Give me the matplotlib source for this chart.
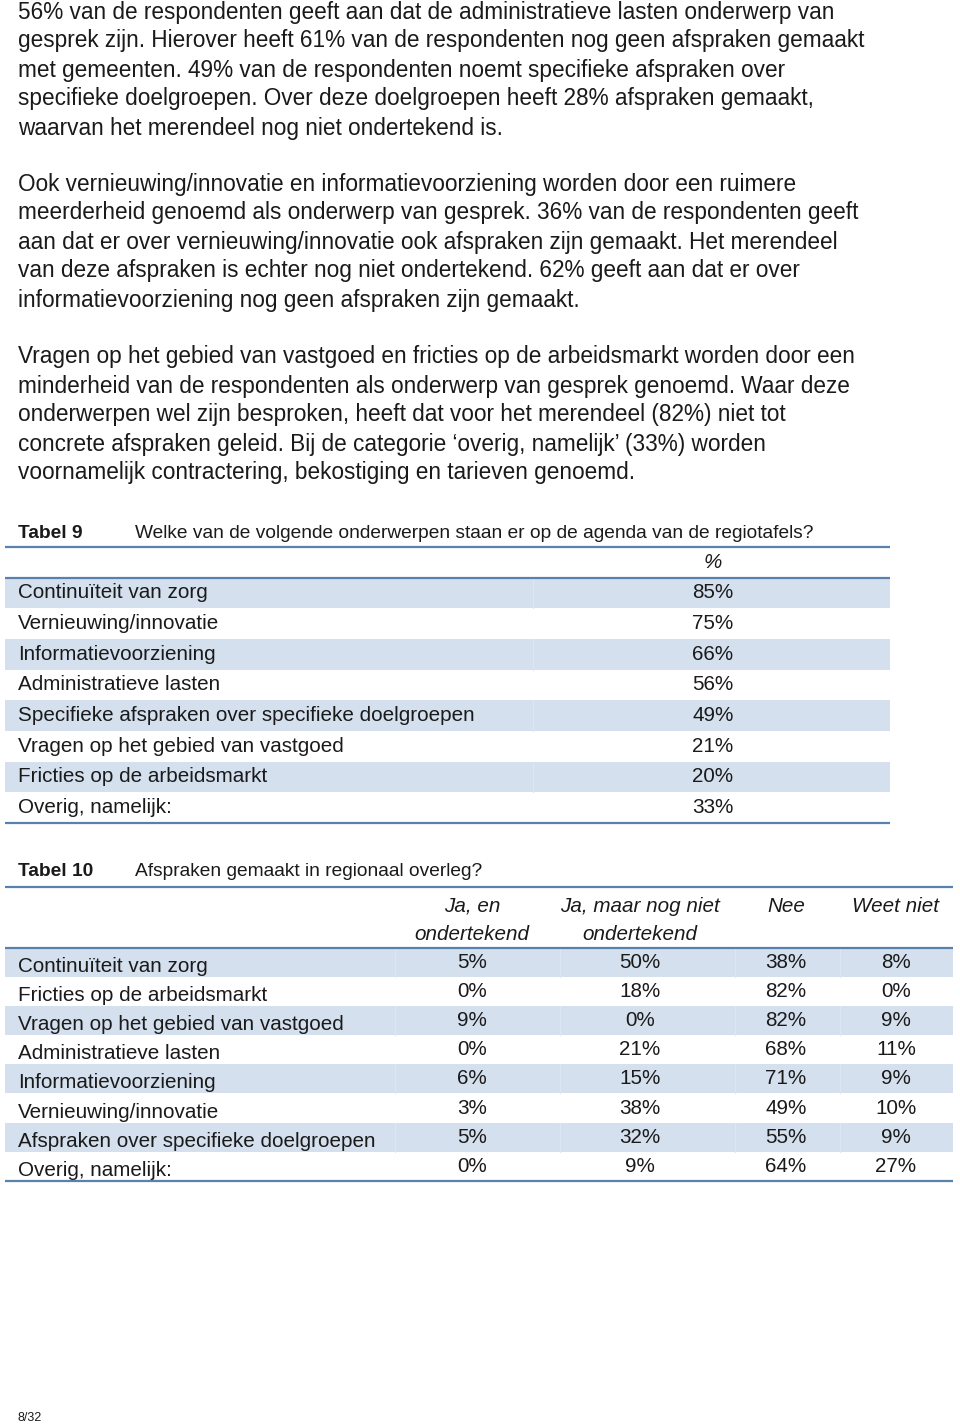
import matplotlib
matplotlib.use("Agg")
import matplotlib.pyplot as plt

# ---------------- data ----------------
paragraphs = [
    ["56% van de respondenten geeft aan dat de administratieve lasten onderwerp van",
     "gesprek zijn. Hierover heeft 61% van de respondenten nog geen afspraken gemaakt",
     "met gemeenten. 49% van de respondenten noemt specifieke afspraken over",
     "specifieke doelgroepen. Over deze doelgroepen heeft 28% afspraken gemaakt,",
     "waarvan het merendeel nog niet ondertekend is."],
    ["Ook vernieuwing/innovatie en informatievoorziening worden door een ruimere",
     "meerderheid genoemd als onderwerp van gesprek. 36% van de respondenten geeft",
     "aan dat er over vernieuwing/innovatie ook afspraken zijn gemaakt. Het merendeel",
     "van deze afspraken is echter nog niet ondertekend. 62% geeft aan dat er over",
     "informatievoorziening nog geen afspraken zijn gemaakt."],
    ["Vragen op het gebied van vastgoed en fricties op de arbeidsmarkt worden door een",
     "minderheid van de respondenten als onderwerp van gesprek genoemd. Waar deze",
     "onderwerpen wel zijn besproken, heeft dat voor het merendeel (82%) niet tot",
     "concrete afspraken geleid. Bij de categorie \u2018overig, namelijk\u2019 (33%) worden",
     "voornamelijk contractering, bekostiging en tarieven genoemd."],
]

t9_label = "Tabel 9"
t9_title = "Welke van de volgende onderwerpen staan er op de agenda van de regiotafels?"
t9_header = "%"
t9_rows = ["Continu\u00efteit van zorg", "Vernieuwing/innovatie", "Informatievoorziening",
           "Administratieve lasten", "Specifieke afspraken over specifieke doelgroepen",
           "Vragen op het gebied van vastgoed", "Fricties op de arbeidsmarkt",
           "Overig, namelijk:"]
t9_values = [85, 75, 66, 56, 49, 21, 20, 33]

t10_label = "Tabel 10"
t10_title = "Afspraken gemaakt in regionaal overleg?"
t10_headers = [["Ja, en", "ondertekend"], ["Ja, maar nog niet", "ondertekend"],
               ["Nee", ""], ["Weet niet", ""]]
t10_rows = ["Continu\u00efteit van zorg", "Fricties op de arbeidsmarkt",
            "Vragen op het gebied van vastgoed", "Administratieve lasten",
            "Informatievoorziening", "Vernieuwing/innovatie",
            "Afspraken over specifieke doelgroepen", "Overig, namelijk:"]
t10_ja = [5, 0, 9, 0, 6, 3, 5, 0]
t10_janiet = [50, 18, 0, 21, 15, 38, 32, 9]
t10_nee = [38, 82, 82, 68, 71, 49, 55, 64]
t10_weet = [8, 0, 9, 11, 9, 10, 9, 27]

page_no = "8/32"

# ---------------- style ----------------
W, H = 960, 1427
TXT = "#1a1a1a"
LINE = "#5a80ad"
SHADE = "#d5e0ef"
SANS = ["Liberation Sans", "DejaVu Sans"]
NARROW = ["Liberation Sans Narrow", "Liberation Sans", "DejaVu Sans"]
FS_P = 16.3
FS = 14.9
FS_H = 13.75

fig = plt.figure(figsize=(W / 100, H / 100), dpi=100)
ax = fig.add_axes([0, 0, 1, 1])
ax.set_xlim(0, W)
ax.set_ylim(H, 0)
ax.axis("off")

# paragraphs
para_starts = [12, 184, 357]
lh = 29.0
for start, lines in zip(para_starts, paragraphs):
    for i, line in enumerate(lines):
        ax.text(18, start + i * lh, line, fontsize=FS_P, family=SANS, color=TXT,
                va="center", ha="left")

# ---------------- Tabel 9 ----------------
ax.text(18, 533, t9_label, fontsize=FS_H, family=NARROW, weight="bold",
        color=TXT, va="center")
ax.text(135, 533, t9_title, fontsize=FS_H, family=NARROW, color=TXT, va="center")
ax.plot([5, 890], [547, 547], color=LINE, lw=1.6, solid_capstyle="butt")
ax.text(713, 562, t9_header, fontsize=FS, family=SANS, color=TXT,
        style="italic", ha="center", va="center")
top9 = 577.5
rh9 = (823 - 577.5) / len(t9_rows)
for i, (lab, v) in enumerate(zip(t9_rows, t9_values)):
    y0 = top9 + i * rh9
    if i % 2 == 0:
        ax.fill_between([5, 890], y0, y0 + rh9, color=SHADE, lw=0)
        ax.plot([533, 533], [y0, y0 + rh9], color="#dde6f2", lw=0.8)
    yc = y0 + rh9 / 2
    ax.text(18, yc, lab, fontsize=FS, family=SANS, color=TXT, va="center")
    ax.text(713, yc, f"{v}%", fontsize=FS, family=SANS, color=TXT,
            ha="center", va="center")
ax.plot([5, 890], [top9, top9], color=LINE, lw=1.6, solid_capstyle="butt")
ax.plot([5, 890], [823, 823], color=LINE, lw=1.6, solid_capstyle="butt")

# ---------------- Tabel 10 ----------------
ax.text(18, 872, t10_label, fontsize=FS_H, family=NARROW, weight="bold",
        color=TXT, va="center")
ax.text(135, 872, t10_title, fontsize=FS_H, family=NARROW, color=TXT, va="center")
ax.plot([5, 953], [887, 887], color=LINE, lw=1.6, solid_capstyle="butt")
col_x = [472, 640, 786, 896]
for cx, hdr in zip(col_x, t10_headers):
    ax.text(cx, 906, hdr[0], fontsize=FS, family=SANS, color=TXT,
            style="italic", ha="center", va="center")
    if hdr[1]:
        ax.text(cx, 934, hdr[1], fontsize=FS, family=SANS, color=TXT,
                style="italic", ha="center", va="center")
top10 = 947.5
rh10 = (1181 - 947.5) / len(t10_rows)
for i, lab in enumerate(t10_rows):
    y0 = top10 + i * rh10
    if i % 2 == 0:
        ax.fill_between([5, 953], y0, y0 + rh10, color=SHADE, lw=0)
        for sx in (395, 560, 735, 840):
            ax.plot([sx, sx], [y0, y0 + rh10], color="#dde6f2", lw=0.8)
    ax.text(18, y0 + rh10 / 2 + 4, lab, fontsize=FS, family=SANS, color=TXT,
            va="center")
    vals = [t10_ja[i], t10_janiet[i], t10_nee[i], t10_weet[i]]
    for cx, v in zip(col_x, vals):
        ax.text(cx, y0 + rh10 / 2, f"{v}%", fontsize=FS, family=SANS, color=TXT,
                ha="center", va="center")
ax.plot([5, 953], [top10, top10], color=LINE, lw=1.6, solid_capstyle="butt")
ax.plot([5, 953], [1181, 1181], color=LINE, lw=1.6, solid_capstyle="butt")

ax.text(18, 1418, page_no, fontsize=9, family=SANS, color=TXT, va="center")

fig.savefig("out.png", dpi=100, facecolor="white")
